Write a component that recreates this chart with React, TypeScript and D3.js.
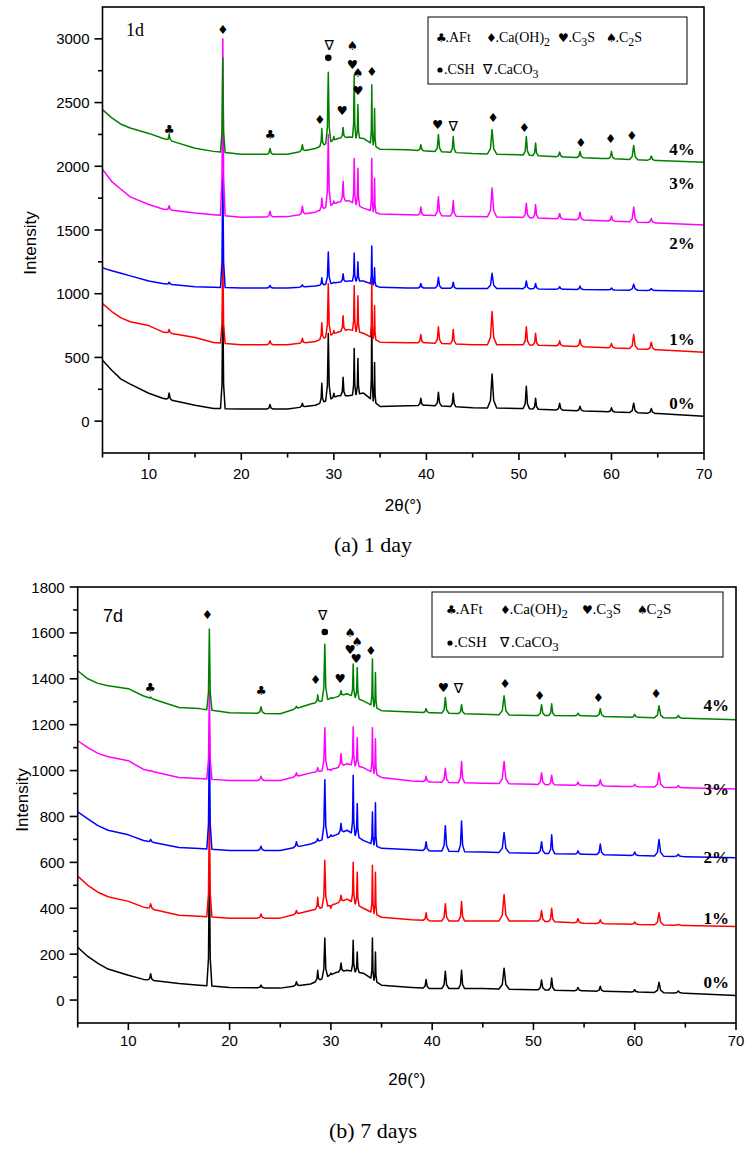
import React from "react";
import * as d3 from "d3";

// ---------- shared data ----------
const BASE_T = [5, 6, 7, 8, 10, 11.5, 15, 17, 20, 25, 28, 30.5, 31.6, 33.2, 35, 38, 40, 45, 50, 55, 59, 65, 70];
const PEAK_T = [12.2, 18.0, 23.1, 26.6, 28.7, 29.4, 30.0, 31.0, 32.2, 32.6, 34.1, 34.4, 39.4, 41.3, 42.9, 47.1, 50.8, 51.8, 54.4, 56.6, 60.0, 62.4, 64.3];
const PEAK_HW = [0.3, 0.25, 0.35, 0.3, 0.22, 0.28, 0.2, 0.25, 0.18, 0.18, 0.15, 0.14, 0.3, 0.35, 0.3, 0.5, 0.35, 0.3, 0.35, 0.35, 0.35, 0.45, 0.4];
const SERIES_NAMES = ["0%", "1%", "2%", "3%", "4%"];
const SERIES_COLORS = ["#000000", "#ff0000", "#0000ff", "#ff00ff", "#008000"];

// ---------- 1 day ----------
const BASE_1D_0 = [477, 400, 330, 290, 219, 180, 125, 100, 95, 95, 125, 200, 200, 220, 115, 120, 125, 105, 100, 85, 75, 60, 38];
const BASE_1D_1 = [922, 860, 810, 780, 750, 700, 656, 617, 600, 600, 625, 700, 720, 690, 620, 615, 615, 600, 600, 590, 578, 560, 540];
const BASE_1D_2 = [1203, 1180, 1160, 1140, 1100, 1080, 1055, 1050, 1045, 1045, 1060, 1090, 1100, 1100, 1050, 1045, 1045, 1040, 1040, 1035, 1031, 1025, 1020];
const BASE_1D_3 = [1976, 1880, 1820, 1760, 1700, 1665, 1633, 1620, 1600, 1605, 1640, 1720, 1730, 1672, 1625, 1620, 1615, 1605, 1600, 1585, 1573, 1555, 1540];
const BASE_1D_4 = [2445, 2380, 2330, 2300, 2258, 2220, 2141, 2117, 2094, 2094, 2140, 2220, 2230, 2219, 2133, 2130, 2120, 2100, 2090, 2072, 2062, 2045, 2031];

const PEAK_1D_0 = [220, 950, 130, 140, 297, 687, 219, 344, 570, 492, 851, 461, 180, 227, 219, 370, 273, 180, 141, 117, 105, 141, 100];
const PEAK_1D_1 = [720, 1300, 630, 650, 773, 1078, 711, 828, 1062, 984, 1100, 906, 680, 740, 720, 860, 740, 690, 630, 640, 610, 680, 620];
const PEAK_1D_2 = [1090, 1950, 1065, 1070, 1125, 1328, 1090, 1156, 1320, 1250, 1375, 1203, 1080, 1130, 1090, 1160, 1100, 1080, 1055, 1060, 1045, 1075, 1040];
const PEAK_1D_3 = [1690, 3000, 1648, 1687, 1750, 2250, 1727, 1883, 2062, 1984, 2062, 1906, 1680, 1760, 1730, 1830, 1710, 1700, 1630, 1640, 1610, 1680, 1590];
const PEAK_1D_4 = [2250, 2850, 2140, 2170, 2297, 2737, 2234, 2305, 2718, 2484, 2640, 2453, 2170, 2250, 2234, 2289, 2234, 2182, 2112, 2117, 2117, 2164, 2080];

const LABEL_V_1D = [141, 641, 1391, 1867, 2133];

const MARK_1D_SYM = ["♣", "♦", "♣", "♦", "∇", "●", "♥", "♠", "♥", "♠", "♥", "♦", "♥", "∇", "♦", "♦", "♦", "♦", "♦"];
const MARK_1D_T = [12.2, 18.0, 23.1, 28.5, 29.5, 29.4, 30.9, 32.0, 32.0, 32.6, 32.6, 34.1, 41.2, 42.9, 47.2, 50.6, 56.7, 59.9, 62.2];
const MARK_1D_V = [2290, 3070, 2250, 2367, 2953, 2851, 2437, 2945, 2797, 2734, 2594, 2742, 2328, 2320, 2383, 2305, 2188, 2219, 2242];

// ---------- 7 days ----------
const BASE_7D_0 = [230, 190, 160, 135, 108, 90, 72, 65, 55, 52, 70, 120, 130, 117, 65, 55, 50, 50, 45, 40, 36, 30, 20];
const BASE_7D_1 = [540, 500, 470, 450, 430, 405, 370, 365, 357, 357, 390, 420, 440, 400, 361, 350, 345, 345, 345, 335, 331, 325, 320];
const BASE_7D_2 = [820, 790, 760, 740, 720, 695, 665, 660, 652, 652, 680, 720, 740, 696, 661, 655, 650, 645, 640, 635, 631, 625, 620];
const BASE_7D_3 = [1130, 1100, 1075, 1060, 1043, 1005, 970, 965, 957, 957, 990, 1010, 1030, 1013, 970, 955, 950, 945, 940, 935, 931, 925, 920];
const BASE_7D_4 = [1435, 1400, 1380, 1370, 1357, 1325, 1275, 1270, 1252, 1248, 1290, 1320, 1335, 1304, 1261, 1255, 1252, 1245, 1240, 1239, 1233, 1228, 1222];

const PEAK_7D_0 = [115, 600, 65, 80, 130, 270, 117, 161, 261, 209, 270, 209, 90, 126, 130, 139, 87, 96, 55, 60, 45, 78, 40];
const PEAK_7D_1 = [420, 820, 375, 390, 448, 609, 400, 457, 600, 557, 587, 557, 380, 420, 430, 460, 390, 400, 355, 350, 340, 380, 330];
const PEAK_7D_2 = [700, 1150, 670, 690, 704, 960, 720, 770, 980, 856, 820, 860, 690, 760, 780, 730, 690, 720, 650, 680, 645, 700, 635];
const PEAK_7D_3 = [1000, 1350, 975, 990, 1013, 1187, 1000, 1074, 1191, 1143, 1187, 1139, 975, 1010, 1040, 1040, 990, 980, 950, 960, 940, 990, 935];
const PEAK_7D_4 = [1320, 1617, 1278, 1280, 1330, 1551, 1318, 1348, 1464, 1449, 1486, 1427, 1270, 1318, 1287, 1326, 1287, 1291, 1250, 1270, 1245, 1283, 1240];

const LABEL_V_7D = [78, 357, 622, 917, 1283];

const MARK_7D_SYM = ["♣", "♦", "♣", "♦", "∇", "●", "♥", "♠", "♥", "♠", "♥", "♦", "♥", "∇", "♦", "♦", "♦", "♦"];
const MARK_7D_T = [12.15, 17.8, 23.1, 28.5, 29.2, 29.4, 30.9, 31.9, 31.9, 32.6, 32.5, 33.95, 41.1, 42.6, 47.2, 50.6, 56.4, 62.1];
const MARK_7D_V = [1361, 1678, 1348, 1396, 1678, 1604, 1400, 1600, 1526, 1561, 1487, 1522, 1361, 1361, 1378, 1326, 1317, 1335];

// ---------- helpers ----------
type Pt = [number, number];

function profile(base: number[], peaks: number[]): Pt[] {
  const baseAt = d3.scaleLinear().domain(BASE_T).range(base);
  const pts: Pt[] = [];
  BASE_T.forEach((t, i) => {
    const inside = PEAK_T.some((p, j) => Math.abs(t - p) <= PEAK_HW[j]);
    if (!inside) pts.push([t, base[i]]);
  });
  PEAK_T.forEach((p, j) => {
    const w = PEAK_HW[j];
    const a = peaks[j];
    const bm = baseAt(p);
    const sh = bm + 0.22 * (a - bm);
    pts.push([p - w, baseAt(p - w)], [p - 0.35 * w, sh], [p, a], [p + 0.35 * w, sh], [p + w, baseAt(p + w)]);
  });
  pts.sort((a, b) => a[0] - b[0]);
  return pts;
}

const SYM_FONT = "DejaVu Sans";
const SERIF = "Liberation Serif";
const SANS = "Liberation Sans";

type LegendItem = { x: number; sym: string; parts: [string, boolean][] };

type PanelProps = {
  left: number; right: number; top: number; bottom: number;
  yDomain: [number, number]; yStep: number;
  bases: number[][]; peaks: number[][];
  labelV: number[]; labelT: number;
  markSym: string[]; markT: number[]; markV: number[];
  tag: string; tagX: number; tagY: number; tagFont: string;
  legendBox: [number, number, number, number];
  legendRows: { y: number; items: LegendItem[] }[];
  legendSize: number;
  xLabelDy: number; xTitleY: number; yTitleX: number; yTitleY: number;
  caption: string; captionY: number;
};

function Panel(p: PanelProps) {
  const x = d3.scaleLinear().domain([5, 70]).range([p.left, p.right]);
  const y = d3.scaleLinear().domain(p.yDomain).range([p.bottom, p.top]);
  const line = d3.line<Pt>().x(d => x(d[0])).y(d => y(d[1]));
  const xMajor = d3.range(10, 71, 10);
  const xMinor = d3.range(5, 71, 10);
  const yMajor = d3.range(0, p.yDomain[1] + 1, p.yStep);
  const yMinor = d3.range(p.yStep / 2, p.yDomain[1], p.yStep);
  const sw = 1.6;
  return (
    <g>
      {p.bases.map((b, i) => (
        <path key={"s" + i} d={line(profile(b, p.peaks[i])) || ""} fill="none"
          stroke={SERIES_COLORS[i]} strokeWidth={1.5} strokeLinejoin="round" />
      ))}
      <rect x={p.left} y={p.top} width={p.right - p.left} height={p.bottom - p.top}
        fill="none" stroke="#000" strokeWidth={sw} />
      {xMajor.map(t => (
        <g key={"xm" + t}>
          <line x1={x(t)} x2={x(t)} y1={p.bottom} y2={p.bottom + 7} stroke="#000" strokeWidth={sw} />
          <text x={x(t)} y={p.bottom + p.xLabelDy} textAnchor="middle" dominantBaseline="central"
            fontFamily={SANS} fontSize={15}>{t}</text>
        </g>
      ))}
      {xMinor.map(t => (
        <line key={"xn" + t} x1={x(t)} x2={x(t)} y1={p.bottom} y2={p.bottom + 4.5} stroke="#000" strokeWidth={sw} />
      ))}
      {yMajor.map(v => (
        <g key={"ym" + v}>
          <line x1={p.left - 8} x2={p.left} y1={y(v)} y2={y(v)} stroke="#000" strokeWidth={sw} />
          <text x={p.left - 13} y={y(v)} textAnchor="end" dominantBaseline="central"
            fontFamily={SANS} fontSize={15}>{v}</text>
        </g>
      ))}
      {yMinor.map(v => (
        <line key={"yn" + v} x1={p.left - 4.5} x2={p.left} y1={y(v)} y2={y(v)} stroke="#000" strokeWidth={sw} />
      ))}
      <text x={(p.left + p.right) / 2} y={p.xTitleY} textAnchor="middle" dominantBaseline="central"
        fontFamily={SANS} fontSize={17}>2θ(°)</text>
      <text transform={`translate(${p.yTitleX},${p.yTitleY}) rotate(-90)`} textAnchor="middle"
        dominantBaseline="central" fontFamily={SANS} fontSize={17}>Intensity</text>
      <text x={p.tagX} y={p.tagY} fontFamily={p.tagFont} fontSize={18}>{p.tag}</text>
      {SERIES_NAMES.map((n, i) => (
        <text key={"l" + n} x={x(p.labelT)} y={y(p.labelV[i])} textAnchor="end" dominantBaseline="central"
          fontFamily={SERIF} fontWeight="bold" fontSize={17}>{n}</text>
      ))}
      {p.markSym.map((s, i) => s === "●" ? (
        <circle key={"m" + i} cx={x(p.markT[i])} cy={y(p.markV[i])} r={3.3} fill="#000" />
      ) : (
        <text key={"m" + i} x={x(p.markT[i])} y={y(p.markV[i])} textAnchor="middle" dominantBaseline="central"
          fontFamily={SYM_FONT} fontSize={s === "∇" ? 14 : 12.5}>{s}</text>
      ))}
      <rect x={p.legendBox[0]} y={p.legendBox[1]} width={p.legendBox[2]} height={p.legendBox[3]}
        fill="#fff" stroke="#000" strokeWidth={1} />
      {p.legendRows.map((row, ri) => row.items.map((it, ii) => (
        <g key={"lg" + ri + "-" + ii}>
          {it.sym === "●" ? (
            <circle cx={it.x + 3} cy={row.y - 4} r={2.6} fill="#000" />
          ) : (
            <text x={it.x} y={row.y} fontFamily={SYM_FONT} fontSize={it.sym === "∇" ? 14 : 12}>{it.sym}</text>
          )}
          <text x={it.x + (it.sym === "●" ? 7 : it.sym === "∇" ? 11 : it.sym === "♥" ? 10.5 : 9.5)} y={row.y}
            fontFamily={SERIF} fontSize={p.legendSize}>
            {it.parts.map(([txt, sub], k) => (
              <tspan key={k} baselineShift={sub ? "-30%" : undefined} fontSize={sub ? p.legendSize * 0.85 : undefined}>{txt}</tspan>
            ))}
          </text>
        </g>
      )))}
      <text x={373} y={p.captionY} textAnchor="middle" fontFamily={SERIF} fontSize={22}>{p.caption}</text>
    </g>
  );
}

export default function App() {
  const p1: PanelProps = {
    left: 102.5, right: 704, top: 7, bottom: 453,
    yDomain: [-250, 3250], yStep: 500,
    bases: [BASE_1D_0, BASE_1D_1, BASE_1D_2, BASE_1D_3, BASE_1D_4],
    peaks: [PEAK_1D_0, PEAK_1D_1, PEAK_1D_2, PEAK_1D_3, PEAK_1D_4],
    labelV: LABEL_V_1D, labelT: 69.0,
    markSym: MARK_1D_SYM, markT: MARK_1D_T, markV: MARK_1D_V,
    tag: "1d", tagX: 126, tagY: 36, tagFont: SERIF,
    legendBox: [428, 17, 259, 67],
    legendRows: [
      { y: 42, items: [
        { x: 436, sym: "♣", parts: [[".AFt", false]] },
        { x: 486, sym: "♦", parts: [[".Ca(OH)", false], ["2", true]] },
        { x: 558, sym: "♥", parts: [[".C", false], ["3", true], ["S", false]] },
        { x: 606, sym: "♠", parts: [[".C", false], ["2", true], ["S", false]] },
      ] },
      { y: 74, items: [
        { x: 437, sym: "●", parts: [[".CSH", false]] },
        { x: 483, sym: "∇", parts: [[".CaCO", false], ["3", true]] },
      ] },
    ],
    legendSize: 14,
    xLabelDy: 20, xTitleY: 505, yTitleX: 30, yTitleY: 243,
    caption: "(a) 1 day", captionY: 552,
  };
  const p2: PanelProps = {
    left: 77.7, right: 736, top: 587, bottom: 1023,
    yDomain: [-100, 1800], yStep: 200,
    bases: [BASE_7D_0, BASE_7D_1, BASE_7D_2, BASE_7D_3, BASE_7D_4],
    peaks: [PEAK_7D_0, PEAK_7D_1, PEAK_7D_2, PEAK_7D_3, PEAK_7D_4],
    labelV: LABEL_V_7D, labelT: 69.3,
    markSym: MARK_7D_SYM, markT: MARK_7D_T, markV: MARK_7D_V,
    tag: "7d", tagX: 103, tagY: 622, tagFont: SANS,
    legendBox: [432, 592, 291, 65],
    legendRows: [
      { y: 614, items: [
        { x: 446, sym: "♣", parts: [[".AFt", false]] },
        { x: 500, sym: "♦", parts: [[".Ca(OH)", false], ["2", true]] },
        { x: 582, sym: "♥", parts: [[".C", false], ["3", true], ["S", false]] },
        { x: 637, sym: "♠", parts: [["C", false], ["2", true], ["S", false]] },
      ] },
      { y: 647, items: [
        { x: 447, sym: "●", parts: [[".CSH", false]] },
        { x: 500, sym: "∇", parts: [[".CaCO", false], ["3", true]] },
      ] },
    ],
    legendSize: 15,
    xLabelDy: 17, xTitleY: 1079, yTitleX: 22, yTitleY: 800,
    caption: "(b) 7 days", captionY: 1138,
  };
  return (
    <svg width={747} height={1149} style={{ position: "absolute", left: 0, top: 0, background: "#fff" }}>
      <rect x={0} y={0} width={747} height={1149} fill="#fff" />
      <Panel {...p1} />
      <Panel {...p2} />
    </svg>
  );
}
